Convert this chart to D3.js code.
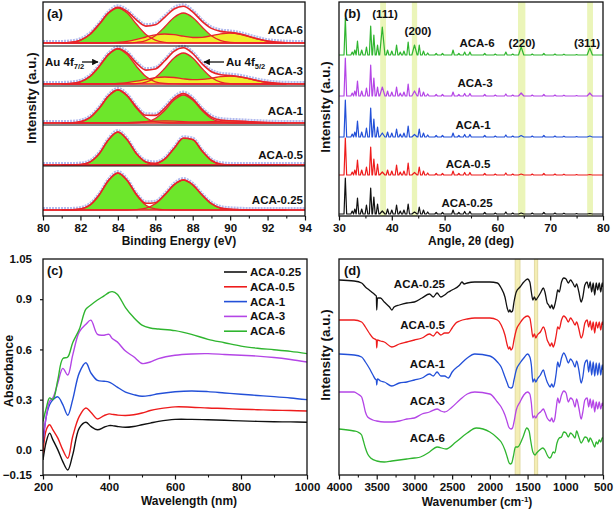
<!DOCTYPE html>
<html>
<head>
<meta charset="utf-8">
<script src="https://cdn.jsdelivr.net/npm/d3@7"></script>
<style>
  body { margin: 0; background: #fff; }
  svg text { font-family: "Liberation Sans", Arial, sans-serif; font-weight: bold; fill: #111; }
</style>
</head>
<body>
<svg id="fig" width="614" height="511"></svg>
<script>
////////////////////////////////////////////////////////////////
// Data

let sampleNames  = ["ACA-0.25", "ACA-0.5", "ACA-1", "ACA-3", "ACA-6"];

// (a) XPS Au 4f, fitted components on a 0.5 eV grid
let xpsEnergy = [81,81.5,82,82.5,83,83.5,84,84.5,85,85.5,86,86.5,87,87.5,88,88.5,89,89.5,90,90.5,91,91.5,92,92.5,93];
let xpsLabels = ["ACA-6", "ACA-3", "ACA-1", "ACA-0.5", "ACA-0.25"];

let xps6G1 = [0.1,0.7,2.8,8.5,18.7,29.9,35,29.9,18.7,8.5,2.8,0.7,0.1,0,0,0,0,0,0,0,0,0,0,0,0];
let xps6G2 = [0,0,0,0,0,0,0,0,0.6,2.4,7.3,16,25.6,30,25.6,16,7.3,2.4,0.6,0.1,0,0,0,0,0];
let xps6Y  = [0,0,0,0,0,0.2,0.7,1.7,3.6,6.0,8.1,9,8.3,6.8,5.5,5.7,7.3,9.2,10,9,6.6,4.0,1.9,0.8,0.25];

let xps3G1 = [0.1,0.5,2.2,7.4,17.5,29.4,35,29.4,17.5,7.4,2.2,0.5,0.1,0,0,0,0,0,0,0,0,0,0,0,0];
let xps3G2 = [0,0,0,0,0,0,0,0.1,0.4,1.9,6.5,15.5,26.1,31,26.1,15.5,6.5,1.9,0.4,0.1,0,0,0,0,0];
let xps3Y  = [0,0,0,0,0,0.2,0.5,1.4,2.8,4.6,6.3,7,6.5,5.2,4.4,4.6,5.8,7.4,8,7.2,5.3,3.2,1.6,0.6,0.2];

let xps1G1 = [0,0.2,1.3,5.3,14.7,27,33,27,14.7,5.3,1.3,0.2,0,0,0,0,0,0,0,0,0,0,0,0,0];
let xps1G2 = [0,0,0,0,0,0,0,0,0.2,1.1,4.5,12.5,22.9,28,22.9,12.5,4.5,1.1,0.2,0,0,0,0,0,0];
let xps1Y  = [0,0,0,0,0,0,0.15,0.4,0.8,1.3,1.8,2,1.8,1.4,1.2,1.2,1.4,1.8,2,1.8,1.3,0.8,0.4,0.15,0];

let xps05G1 = [0,0,0.4,2.9,11.2,25.2,33,25.2,11.2,2.9,0.4,0,0,0,0,0,0,0,0,0,0,0,0,0,0];
let xps05G2 = [0,0,0,0,0,0,0,0,0,0.15,1.2,5.9,16.5,26.8,25.4,14,4.5,0.8,0.1,0,0,0,0,0,0];
let xps05Y  = [];

let xps025G1 = [0,0.1,1.0,4.8,15,29.5,37,29.5,15,4.8,1.0,0.1,0,0,0,0,0,0,0,0,0,0,0,0,0];
let xps025G2 = [0,0,0,0,0,0,0,0,0.4,1.9,6.3,15,25.2,30,25.2,15,6.3,1.9,0.8,0.3,0,0,0,0,0];
let xps025Y  = [];

// (b) XRD peak list (2theta, deg) and peak heights per sample
let xrdAngles = [31.2,32.5,33.0,33.5,34.3,35.2,36.0,36.6,37.3,38.2,39.2,40.0,40.9,41.6,42.3,43.1,44.3,45.2,46.0,46.8,48.4,49.6,51.6,52.7,53.8,54.8,57.6,59.6,61.6,62.9,64.5,66.6,68.8,70.9,72.6,75.0,77.5];
let auAngles  = [38.2, 44.3, 64.5, 77.5];
let auLabels  = ["(111)", "(200)", "(220)", "(311)"];
let auBands   = [[37.8,38.9],[43.8,44.8],[63.9,65.3],[77.0,78.1]];

let xrd025 = [36,3,5,16,5,9,26,17,10,3,5,4,9,3,4,10,2,7,4,2,1.5,1.5,4,1.5,2.5,2.5,1.5,1,2,1,1,1,1.5,1,0.8,0.5,0.5];
let xrd05  = [37,3,5,15,5,8,28,16,11,3,5,4,10,3,4,12,2.5,8,4,2,1.5,1.5,4,1.5,2.5,2.5,1.5,1,2,1,1,1,1.5,1,0.8,0.5,0.5];
let xrd1   = [37,3,5,16,5,9,29,18,10,4,5,4,8,3,4,11,2.5,8,4,2,1.5,1.5,4,1.5,2.5,2.5,1.5,1,2,1,1.5,1,1.5,1,0.8,0.5,1];
let xrd3   = [38,3,5,15,5,8,31,18,9,9,5,4,9,3,4,12,5,8,4,2,1.5,1.5,4,1.5,2.5,2.5,1.5,1,2,1,3,1,1.5,1,0.8,0.5,3];
let xrd6   = [37,3,5,14,5,8,29,20,10,28,5,4,10,3,4,13,10,10,4,2,1.5,1.5,5,1.5,3,3,1.5,1,3,1,8,1,1.5,1,0.8,0.5,7];

// (c) UV-vis absorbance
let uvWave = [200,210,220,230,245,260,275,290,310,330,345,365,385,400,410,425,450,475,500,525,550,600,650,700,750,800,850,900,950,1000];
let uv025 = [-0.06,0.05,0.10,0.06,0.0,-0.07,-0.12,-0.03,0.13,0.165,0.14,0.12,0.135,0.145,0.145,0.14,0.135,0.14,0.15,0.16,0.17,0.182,0.182,0.18,0.177,0.173,0.17,0.168,0.167,0.165];
let uv05  = [-0.02,0.12,0.15,0.12,0.07,0.0,-0.05,0.08,0.20,0.25,0.225,0.185,0.205,0.215,0.212,0.208,0.205,0.21,0.22,0.235,0.245,0.257,0.255,0.25,0.247,0.243,0.24,0.237,0.235,0.232];
let uv1   = [0.04,0.20,0.27,0.30,0.317,0.27,0.207,0.30,0.46,0.52,0.46,0.415,0.41,0.405,0.395,0.375,0.345,0.33,0.32,0.325,0.335,0.347,0.352,0.348,0.34,0.332,0.325,0.318,0.31,0.30];
let uv3   = [0.06,0.20,0.29,0.31,0.40,0.487,0.447,0.566,0.705,0.75,0.775,0.69,0.685,0.69,0.665,0.645,0.59,0.556,0.516,0.525,0.545,0.565,0.573,0.575,0.57,0.565,0.56,0.552,0.54,0.525];
let uv6   = [0.17,0.25,0.31,0.30,0.42,0.545,0.555,0.64,0.72,0.84,0.865,0.895,0.92,0.94,0.945,0.93,0.85,0.79,0.745,0.728,0.722,0.712,0.69,0.66,0.64,0.62,0.607,0.598,0.588,0.575];
let uvYTicks = [-0.15, 0, 0.3, 0.6, 0.9];
let uvTopLabel = "1.05";

// (d) FTIR, [wavenumber, stacked intensity (a.u.)]
let ftirBands = [[1600,1665],[1365,1410]];
let ftir025 = [[4000,195],[3800,194],[3700,192],[3650,188],[3600,185],[3550,182],[3520,180],[3505,179],[3500,165],[3490,177],[3450,177],[3400,173],[3330,168],[3300,165],[3270,168],[3200,170],[3100,172],[3000,173],[2900,177],[2800,181],[2750,178],[2700,182],[2650,178],[2600,180],[2550,183],[2500,185],[2400,190],[2370,193],[2340,191],[2300,192],[2200,193],[2000,193],[1900,192],[1850,187],[1800,178],[1770,167],[1750,163],[1735,165],[1720,163],[1700,164],[1680,173],[1650,183],[1600,188],[1550,193],[1500,196],[1470,193],[1450,183],[1430,175],[1410,178],[1390,175],[1370,177],[1330,182],[1290,187],[1270,183],[1240,172],[1220,170],[1200,167],[1180,170],[1160,166],[1140,170],[1120,177],[1100,185],[1080,183],[1050,193],[1020,197],[990,196],[960,192],[930,195],[900,192],[870,188],[850,191],[820,183],[790,173],[770,177],[740,190],[710,193],[690,187],[670,193],[650,183],[630,192],[610,180],[590,192],[570,185],[550,192],[530,183],[510,192],[500,188]];
let ftir05 = [[4000,155],[3800,155],[3700,153],[3650,148],[3600,142],[3550,137],[3505,135],[3500,127],[3490,135],[3450,134],[3400,133],[3300,128],[3200,131],[3100,133],[3000,135],[2900,137],[2800,141],[2750,139],[2700,143],[2650,140],[2600,142],[2550,142],[2500,147],[2450,152],[2400,154],[2300,156],[2200,157],[2000,157],[1900,155],[1850,150],[1800,140],[1770,130],[1750,126],[1735,128],[1720,125],[1700,127],[1680,135],[1650,145],[1600,152],[1550,157],[1500,159],[1470,157],[1450,148],[1430,138],[1410,141],[1390,137],[1370,140],[1330,143],[1290,148],[1270,145],[1240,135],[1220,132],[1200,129],[1180,132],[1160,128],[1140,132],[1120,140],[1100,148],[1080,146],[1050,155],[1020,159],[990,157],[960,153],[930,157],[900,154],[870,150],[850,153],[820,146],[790,137],[770,140],[740,152],[710,155],[690,148],[670,154],[650,145],[630,153],[610,142],[590,153],[570,147],[550,153],[530,145],[510,153],[500,150]];
let ftir1 = [[4000,121],[3800,120],[3700,118],[3650,113],[3600,107],[3550,100],[3520,96],[3505,95],[3500,90],[3490,96],[3450,94],[3400,93],[3300,89],[3200,92],[3100,93],[3000,95],[2900,97],[2800,101],[2750,99],[2700,103],[2650,99],[2600,99],[2550,97],[2500,103],[2400,110],[2300,117],[2200,121],[2000,119],[1900,113],[1850,108],[1800,98],[1770,92],[1750,88],[1720,87],[1700,88],[1680,95],[1650,105],[1600,112],[1550,117],[1500,121],[1470,118],[1450,110],[1430,93],[1410,96],[1390,93],[1370,96],[1330,100],[1290,105],[1270,100],[1240,93],[1220,90],[1200,88],[1180,91],[1160,88],[1140,92],[1120,102],[1100,113],[1080,108],[1050,117],[1020,122],[990,118],[960,112],[930,116],[900,113],[870,108],[850,114],[820,105],[790,92],[770,97],[740,112],[710,115],[690,103],[670,114],[650,100],[630,113],[610,99],[590,112],[570,100],[550,112],[530,100],[510,110],[500,105]];
let ftir3 = [[4000,83],[3800,83],[3750,81],[3700,78],[3680,73],[3650,63],[3620,58],[3550,55],[3500,54],[3400,53],[3300,53],[3200,54],[3100,56],[3000,57],[2900,61],[2800,63],[2700,66],[2650,64],[2600,63],[2500,68],[2400,75],[2300,81],[2200,83],[2000,81],[1900,73],[1850,68],[1800,60],[1770,53],[1750,48],[1720,46],[1700,47],[1680,53],[1650,65],[1600,73],[1550,80],[1500,83],[1470,81],[1450,72],[1430,57],[1410,59],[1390,57],[1370,60],[1330,63],[1290,66],[1270,63],[1240,57],[1220,55],[1200,54],[1180,57],[1160,53],[1140,56],[1120,67],[1100,77],[1080,72],[1050,80],[1020,84],[990,82],[960,73],[930,77],[900,75],[870,68],[850,76],[820,67],[790,56],[770,62],[740,75],[710,77],[690,68],[670,76],[650,67],[630,75],[610,63],[590,73],[570,66],[550,73],[530,66],[510,72],[500,69]];
let ftir6 = [[4000,46],[3800,44],[3750,43],[3700,40],[3680,35],[3650,27],[3620,21],[3580,17],[3500,14],[3400,13],[3300,14],[3200,15],[3100,16],[3000,17],[2920,18],[2800,23],[2700,28],[2580,26],[2450,33],[2300,42],[2180,47],[2000,43],[1900,37],[1850,33],[1800,25],[1770,18],[1750,13],[1730,11],[1710,12],[1690,18],[1660,28],[1630,28],[1600,31],[1560,38],[1510,47],[1480,44],[1460,35],[1430,23],[1400,20],[1380,22],[1340,25],[1300,27],[1270,25],[1240,20],[1210,17],[1190,18],[1160,23],[1140,22],[1110,32],[1080,37],[1050,38],[1020,43],[990,42],[960,38],[930,42],[900,40],[870,37],[850,44],[820,38],[790,32],[770,34],[740,38],[710,37],[690,33],[670,37],[640,33],[610,28],[590,33],[570,31],[550,35],[530,33],[510,37],[500,37]];

////////////////////////////////////////////////////////////////
// Layout & styles

const A = {l: 43,  r: 305, t: 2,   b: 216};
const B = {l: 339, r: 603, t: 2,   b: 216};
const C = {l: 43,  r: 307, t: 259, b: 475};
const D = {l: 339, r: 603, t: 259, b: 475};

const RED = "#e8232a";
const GREEN_FILL = "#6de62b";
const YELLOW_FILL = "#eeee2a";
const DOTS = "#b2baee";
const colors = {"ACA-0.25": "#111111", "ACA-0.5": "#ee1c1c", "ACA-1": "#2350d8",
                "ACA-3": "#b445e6", "ACA-6": "#2fb52f"};

const svg = d3.select("#fig");

function frame(p) {
  svg.append("rect")
    .attr("x", p.l).attr("y", p.t)
    .attr("width", p.r - p.l).attr("height", p.b - p.t)
    .attr("fill", "none").attr("stroke", "#111").attr("stroke-width", 1.3);
}

function clip(id, p) {
  svg.append("clipPath").attr("id", id).append("rect")
    .attr("x", p.l).attr("y", p.t).attr("width", p.r - p.l).attr("height", p.b - p.t);
  return svg.append("g").attr("clip-path", `url(#${id})`);
}

function bottomAxis(p, x, major, minor, pad) {
  svg.append("g").attr("transform", `translate(0,${p.b})`)
    .call(d3.axisBottom(x).tickValues(minor).tickSize(2.5).tickFormat(""))
    .call(g => g.select(".domain").remove())
    .call(g => g.selectAll("line").attr("stroke", "#111").attr("stroke-width", 1.1));
  svg.append("g").attr("transform", `translate(0,${p.b})`)
    .call(d3.axisBottom(x).tickValues(major).tickSize(4.5).tickPadding(pad).tickFormat(d3.format("d")))
    .call(g => g.select(".domain").remove())
    .call(g => g.selectAll("line").attr("stroke", "#111").attr("stroke-width", 1.2))
    .call(g => g.selectAll("text").attr("font-size", 11.5));
}

function text(x, y, s, size, anchor) {
  return svg.append("text").attr("x", x).attr("y", y)
    .attr("font-size", size).attr("text-anchor", anchor || "start").text(s);
}

function yTitle(x, y, s, size) {
  svg.append("text").attr("transform", `translate(${x},${y}) rotate(-90)`)
    .attr("text-anchor", "middle").attr("font-size", size).text(s);
}

////////////////////////////////////////////////////////////////
// (a) XPS

let xA = d3.scaleLinear().domain([80, 94]).range([A.l, A.r]);
let yA = d3.scaleLinear().domain([0, 214]).range([A.b, A.t]);

let xpsG1 = [xps6G1, xps3G1, xps1G1, xps05G1, xps025G1];
let xpsG2 = [xps6G2, xps3G2, xps1G2, xps05G2, xps025G2];
let xpsY  = [xps6Y,  xps3Y,  xps1Y,  xps05Y,  xps025Y];
const stripBase = [173, 132, 93, 51, 6];     // stacking offsets
const stripSep  = [170, 130, 91, 50];        // separator lines
const labelY    = [34, 75, 115, 159, 204];

let gA = clip("clipA", A);

xpsLabels.forEach(function(name, s) {
  let base = stripBase[s];
  let v = (arr, i) => arr[i] || 0;

  let area = arr => d3.area()
    .x((d, i) => xA(xpsEnergy[i]))
    .y0(yA(base))
    .y1((d, i) => yA(base + v(arr, i)))
    .curve(d3.curveMonotoneX)(xpsEnergy);
  let line = arr => d3.line()
    .x((d, i) => xA(xpsEnergy[i]))
    .y((d, i) => yA(base + v(arr, i)))
    .curve(d3.curveMonotoneX)(xpsEnergy);

  [xpsG1[s], xpsG2[s]].forEach(arr => {
    gA.append("path").attr("d", area(arr)).attr("fill", GREEN_FILL);
  });
  if (xpsY[s].length) {
    gA.append("path").attr("d", area(xpsY[s])).attr("fill", YELLOW_FILL);
  }

  // envelope = sum of the components
  let env = xpsEnergy.map((e, i) => [e, v(xpsG1[s], i) + v(xpsG2[s], i) + v(xpsY[s], i)]);
  env = [[80, 0]].concat(env, [[94, 0]]);
  let envLine = d3.line().x(d => xA(d[0])).y(d => yA(base + d[1])).curve(d3.curveMonotoneX);

  gA.append("path").attr("d", envLine(env))
    .attr("fill", "none").attr("stroke", DOTS).attr("stroke-width", 2.4)
    .attr("stroke-dasharray", "2,1").attr("transform", "translate(0,-1.8)");

  [xpsG1[s], xpsG2[s]].concat(xpsY[s].length ? [xpsY[s]] : []).forEach(arr => {
    gA.append("path").attr("d", line(arr))
      .attr("fill", "none").attr("stroke", RED).attr("stroke-width", 1.3);
  });

  gA.append("line").attr("x1", xA(80)).attr("x2", xA(94))
    .attr("y1", yA(base)).attr("y2", yA(base))
    .attr("stroke", RED).attr("stroke-width", 1.6);
  gA.append("path").attr("d", envLine(env))
    .attr("fill", "none").attr("stroke", RED).attr("stroke-width", 1.6);

  text(A.r - 2, labelY[s], name, 11.5, "end");
});

stripSep.forEach(v => {
  svg.append("line").attr("x1", A.l).attr("x2", A.r)
    .attr("y1", yA(v)).attr("y2", yA(v)).attr("stroke", "#111").attr("stroke-width", 1);
});

frame(A);
bottomAxis(A, xA, d3.range(80, 95, 2), d3.range(81, 94, 2), 3);
text(47, 18, "(a)", 13);
text(179, 245, "Binding Energy (eV)", 12, "middle");
yTitle(36, 98, "Intensity (a.u.)", 13.5);

// Au 4f annotations
let t1 = text(45, 66, "Au 4f", 11.5);
t1.append("tspan").attr("font-size", 7.5).attr("dy", 3).text("7/2");
let t2 = text(226, 66, "Au 4f", 11.5);
t2.append("tspan").attr("font-size", 7.5).attr("dy", 3).text("5/2");

svg.append("defs").append("marker").attr("id", "arr")
  .attr("viewBox", "0 0 10 10").attr("refX", 9).attr("refY", 5)
  .attr("markerWidth", 5).attr("markerHeight", 5).attr("orient", "auto-start-reverse")
  .append("path").attr("d", "M0,0L10,5L0,10z").attr("fill", "#111");
svg.append("line").attr("x1", 82).attr("x2", 98).attr("y1", 62).attr("y2", 62)
  .attr("stroke", "#111").attr("stroke-width", 1.3).attr("marker-end", "url(#arr)");
svg.append("line").attr("x1", 224).attr("x2", 204).attr("y1", 62).attr("y2", 62)
  .attr("stroke", "#111").attr("stroke-width", 1.3).attr("marker-end", "url(#arr)");

////////////////////////////////////////////////////////////////
// (b) XRD

let xB = d3.scaleLinear().domain([30, 80]).range([B.l, B.r]);
let yB = d3.scaleLinear().domain([0, 214]).range([B.b, B.t]);

let gB = clip("clipB", B);
gB.selectAll("rect.band").data(auBands).enter().append("rect")
  .attr("x", d => xB(d[0])).attr("width", d => xB(d[1]) - xB(d[0]))
  .attr("y", B.t).attr("height", B.b - B.t)
  .attr("fill", "#e6f3a8").attr("opacity", 0.8);

let xrdSeries = [xrd025, xrd05, xrd1, xrd3, xrd6];
const xrdBase = [2, 41, 79, 120, 161];
const xrdLabelPos = [[467, 207], [468, 168], [473, 129], [475, 87], [477, 47]];

function xrdPoints(h) {
  let pts = [[30, 0]];
  xrdAngles.forEach(function(a, i) {
    let hw = auAngles.includes(a) ? 0.5 : 0.25;
    pts.push([a - hw, 0], [a, h[i]], [a + hw, 0]);
  });
  pts.push([80, 0]);
  return pts;
}

xrdSeries.forEach(function(h, s) {
  let base = xrdBase[s];
  gB.append("path")
    .attr("d", d3.line().x(p => xB(p[0])).y(p => yB(base + p[1]))(xrdPoints(h)))
    .attr("fill", "none").attr("stroke", colors[sampleNames[s]]).attr("stroke-width", 1.2)
    .attr("stroke-linejoin", "round");
  text(xrdLabelPos[s][0], xrdLabelPos[s][1], sampleNames[s], 11.5, "middle");
});

const hklPos = [[385, 18], [418, 35], [522, 47], [587, 47]];
auLabels.forEach((l, i) => text(hklPos[i][0], hklPos[i][1], l, 11.5, "middle"));

frame(B);
bottomAxis(B, xB, d3.range(30, 81, 10), d3.range(35, 80, 10), 3);
text(344, 18, "(b)", 13);
text(471, 245, "Angle, 2\u03b8 (deg)", 12, "middle");
yTitle(330, 107, "Intensity (a.u.)", 13.5);

////////////////////////////////////////////////////////////////
// (c) UV-vis

let xC = d3.scaleLinear().domain([200, 1000]).range([C.l, C.r]);
let yC = d3.scaleLinear().domain([-0.15, 1.14]).range([C.b, C.t]);

let gC = clip("clipC", C);
let uvSeries = [uv025, uv05, uv1, uv3, uv6];
uvSeries.forEach(function(vals, s) {
  gC.append("path")
    .attr("d", d3.line()
      .x((d, i) => xC(uvWave[i]))
      .y(d => yC(d))
      .curve(d3.curveCatmullRom.alpha(0.5))(vals))
    .attr("fill", "none").attr("stroke", colors[sampleNames[s]]).attr("stroke-width", 1.4);
});

frame(C);
bottomAxis(C, xC, d3.range(200, 1001, 200), d3.range(300, 1000, 200), 3);
svg.append("g").attr("transform", `translate(${C.l},0)`)
  .call(d3.axisLeft(yC).tickValues(uvYTicks).tickSize(3).tickPadding(8)
    .tickFormat(d => d === 0 ? "0.0" : d3.format("")(d)))
  .call(g => g.select(".domain").remove())
  .call(g => g.selectAll("line").attr("stroke", "#111").attr("stroke-width", 1.2))
  .call(g => g.selectAll("text").attr("font-size", 11.5));
text(C.l - 11, C.t + 4, uvTopLabel, 11.5, "end");

// legend
sampleNames.forEach(function(name, i) {
  let y = 272 + i * 14.8;
  svg.append("line").attr("x1", 224).attr("x2", 247).attr("y1", y).attr("y2", y)
    .attr("stroke", colors[name]).attr("stroke-width", 1.6);
  text(250, y + 4, name, 11.5);
});

text(47, 275, "(c)", 13);
text(189, 505, "Wavelength (nm)", 12, "middle");
yTitle(13, 371, "Absorbance", 12.5);

////////////////////////////////////////////////////////////////
// (d) FTIR

let xD = d3.scaleLinear().domain([4000, 500]).range([D.l, D.r]);
let yD = d3.scaleLinear().domain([0, 216]).range([D.b, D.t]);

let gD = clip("clipD", D);
gD.selectAll("rect.band").data(ftirBands).enter().append("rect")
  .attr("x", d => xD(d[1])).attr("width", d => xD(d[0]) - xD(d[1]))
  .attr("y", D.t).attr("height", D.b - D.t)
  .attr("fill", "#f4eeb4").attr("stroke", "#ddd49a").attr("stroke-width", 0.8);

let ftirSeries = [ftir025, ftir05, ftir1, ftir3, ftir6];
const ftirLabelY = [288, 329, 368, 405, 442];
ftirSeries.forEach(function(pts, s) {
  gD.append("path")
    .attr("d", d3.line().x(p => xD(p[0])).y(p => yD(p[1])).curve(d3.curveMonotoneX)(pts))
    .attr("fill", "none").attr("stroke", colors[sampleNames[s]]).attr("stroke-width", 1.3);
  text(445, ftirLabelY[s], sampleNames[s], 11.5, "end");
});

frame(D);
bottomAxis(D, xD, d3.range(4000, 499, -500), d3.range(3750, 500, -500), 3);
text(344, 275, "(d)", 13);
let tw = text(477, 506, "Wavenumber (cm", 12, "middle");
tw.append("tspan").attr("font-size", 8).attr("dy", -4).text("-1");
tw.append("tspan").attr("dy", 4).text(")");
yTitle(330, 355, "Intensity (a.u.)", 13.5);
</script>
</body>
</html>
